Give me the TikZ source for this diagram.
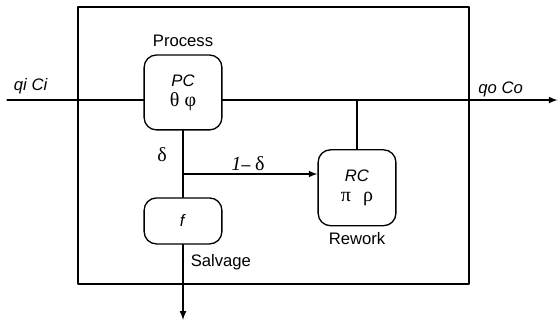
\documentclass[tikz,border=0pt]{standalone}
\usepackage{fontspec}
\setmainfont{Liberation Sans}
\newfontfamily\grk{Liberation Serif}
\usetikzlibrary{positioning}
\tikzset{
  unit/.style={draw,line width=0.8pt,rounded corners=0.26cm,minimum width=1.64cm,align=center,inner sep=0pt},
  flow/.style={line width=0.8pt},
}
\begin{document}
\begin{tikzpicture}[line cap=round,line join=round,>=latex]
  \useasboundingbox (0,0) rectangle (11.79,6.81);
  % system boundary
  \draw[flow] (1.645,0.822) rectangle (9.89,6.66);
  % units
  \node[unit,minimum height=1.58cm] (pc) at (3.86,4.86) {\textit{PC}\\[0pt]{\grk\large θ φ}};
  \node[unit,minimum height=0.97cm] (fb) at (3.86,2.15) {\textit{f}};
  \node[unit,minimum height=1.6cm] (rc) at (7.53,2.85) {\textit{RC}\\[0pt]{\grk\large π\hspace{0.6em}ρ}};
  \node[above=1pt] (plab) at (pc.north) {Process};
  \node[below=0pt] (rlab) at (rc.south) {Rework};
  % streams
  \coordinate (in) at (0.15,4.70);
  \coordinate (out) at (11.76,4.70);
  \coordinate (br) at (3.86,3.14);
  \coordinate (sal) at (3.86,0.063);
  \draw[flow] (in) -- (pc.west |- in);
  \draw[flow,->] (pc.east |- in) -- (out);
  \draw[flow] (rc.north |- in) -- (rc.north);
  \draw[flow] (pc.south) -- (fb.north);
  \draw[flow,->] (br) -- (rc.west |- br);
  \draw[flow,->] (fb.south) -- (sal);
  % labels
  \node (qin) at (0.65,5.0) {\textit{qi Ci}};
  \node (qout) at (10.56,4.92) {\textit{qo Co}};
  \node (dl) at (3.42,3.54) {\grk\large δ};
  \node (ndl) at (5.23,3.35) {{\grk\large\itshape 1}– {\grk\large δ}};
  \node[anchor=west] (slab) at (3.90,1.27) {Salvage};
\end{tikzpicture}
\end{document}
